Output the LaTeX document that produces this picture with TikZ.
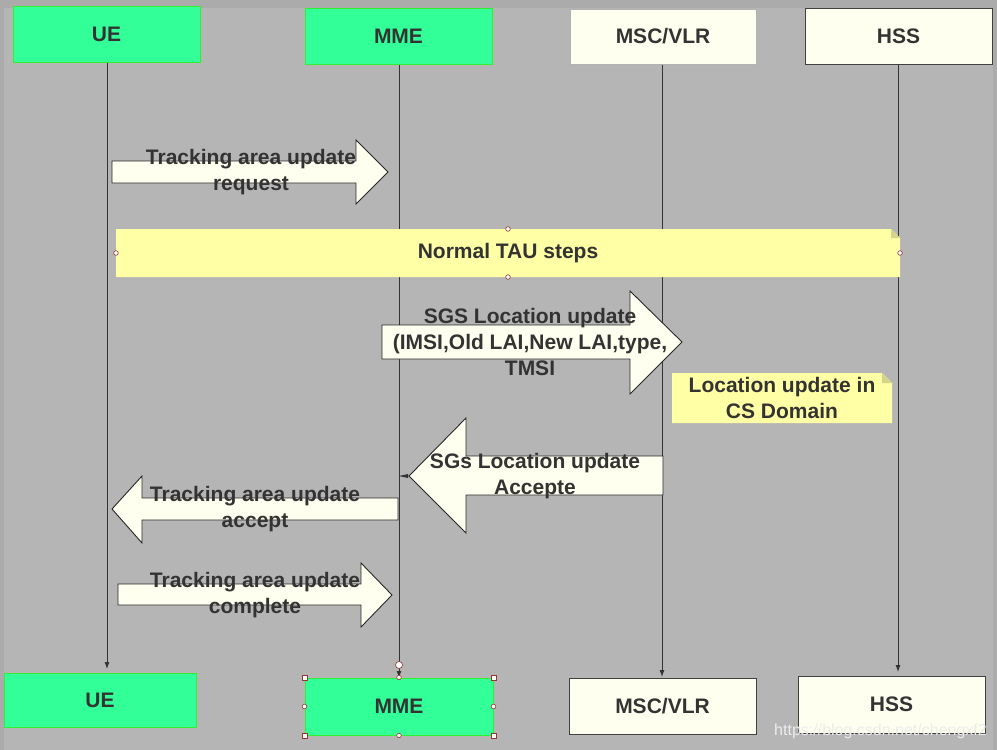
\documentclass[tikz,border=0pt]{standalone}
\usepackage{fontspec}
\setmainfont{Liberation Sans}
\usetikzlibrary{arrows.meta}
\definecolor{bgouter}{HTML}{ABABAB}
\definecolor{bginner}{HTML}{B5B5B5}
\definecolor{entgreen}{HTML}{33FF99}
\definecolor{entgreenline}{HTML}{33EE33}
\definecolor{ivory}{HTML}{FFFFF0}
\definecolor{notey}{HTML}{FFFFA5}
\definecolor{notefold}{HTML}{D4D48A}
\definecolor{txt}{HTML}{333333}
\definecolor{handle}{HTML}{993333}
\begin{document}
\begin{tikzpicture}[x=1pt,y=-1pt,
  lbl/.style={font=\bfseries\fontsize{21}{26}\selectfont, text=txt, align=center, inner sep=0pt},
  entbox/.style={lbl, draw, line width=1pt, inner sep=0pt},
  greenent/.style={entbox, fill=entgreen, draw=entgreenline},
  ivoryent/.style={entbox, fill=ivory, draw=black!75},
  lifeline/.style={draw=black!80, line width=0.9pt, -{Latex[length=7pt,width=5pt]}},
  blockarrow/.style={fill=ivory, draw=black!85, line width=0.9pt},
  note/.style={fill=notey, draw=none},
  fold/.style={fill=notefold, draw=none},
  hcirc/.style={fill=white, draw=handle, line width=0.6pt},
]
\useasboundingbox (0,0) rectangle (997,750);
\fill[bgouter] (0,0) rectangle (997,750);
\fill[bginner] (4,8) rectangle (993,750);

% entities top
\node[greenent, minimum width=187pt, minimum height=56pt] (ue1) at (106.5,34) {UE};
\node[greenent, minimum width=187pt, minimum height=56pt] (mme1) at (398.5,36) {MME};
\node[ivoryent, draw=black!30, minimum width=186pt, minimum height=55pt] (msc1) at (663,36.5) {MSC/VLR};
\node[ivoryent, minimum width=187pt, minimum height=56pt] (hss1) at (898.5,36) {HSS};
% entities bottom
\node[greenent, minimum width=192pt, minimum height=54pt] (ue2) at (100,700) {UE};
\node[greenent, draw=entgreenline, minimum width=188pt, minimum height=57pt] (mme2) at (399,706.5) {MME};
\node[ivoryent, minimum width=187pt, minimum height=56pt] (msc2) at (662.5,706) {MSC/VLR};
\node[ivoryent, minimum width=187pt, minimum height=57pt] (hss2) at (891.5,704.5) {HSS};

% lifelines
\coordinate (ueend) at (107,669);
\coordinate (mmeend) at (399,678);
\coordinate (mscend) at (662,677);
\coordinate (hssend) at (898,672);
\draw[lifeline] (ue1.south -| ueend) -- (ueend);
\draw[lifeline] (mme1.south -| mmeend) -- (mmeend);
\draw[lifeline] (msc1.south -| mscend) -- (mscend);
\draw[lifeline] (hss1.south -| hssend) -- (hssend);

% 1. Tracking area update request
\draw[blockarrow] (112,161) -- (356,161) -- (356,140) -- (388,172) -- (356,204) -- (356,183) -- (112,183) -- cycle;
\node[lbl] (m1) at (251,172) {Tracking area update\\request};

% Normal TAU steps note
\fill[note] (116,229) -- (891,229) -- (900,238) -- (900,277) -- (116,277) -- cycle;
\fill[fold] (891,229) -- (900,238) -- (891,238) -- cycle;
\node[lbl] (tau) at (508,253) {Normal TAU steps};
\foreach \p in {(508,229),(508,277),(116,253),(900,253)}
  \draw[hcirc] \p circle (2.3);

% SGS Location update
\draw[blockarrow] (382,325) -- (630,325) -- (630,291) -- (682,342) -- (630,394) -- (630,359) -- (382,359) -- cycle;
\node[lbl] (m2) at (530,342) {SGS Location update\\(IMSI,Old LAI,New LAI,type,\\TMSI};

% Location update in CS Domain note
\fill[note] (672,373) -- (882,373) -- (892,383) -- (892,423) -- (672,423) -- cycle;
\fill[fold] (882,373) -- (892,383) -- (882,383) -- cycle;
\node[lbl] (cs) at (782,398) {Location update in\\CS Domain};

% SGs Location update Accepte
\draw[blockarrow] (663,456) -- (466,456) -- (466,418) -- (409,476) -- (466,533) -- (466,495) -- (663,495) -- cycle;
\node[lbl] (m3) at (535,476) {SGs Location update\\Accepte};
\fill[black!80] (399,476) -- (408,474) -- (408,478) -- cycle;

% Tracking area update accept
\draw[blockarrow] (398,498) -- (142,498) -- (142,476) -- (112,509) -- (142,543) -- (142,520) -- (398,520) -- cycle;
\node[lbl] (m4) at (255,509) {Tracking area update\\accept};

% Tracking area update complete
\draw[blockarrow] (118,584) -- (361,584) -- (361,563) -- (392,595) -- (361,627) -- (361,605) -- (118,605) -- cycle;
\node[lbl] (m5) at (255,595) {Tracking area update\\complete};

% selection handles on bottom MME
\draw[hcirc] (399,665) circle (3.5);
\foreach \p in {(mme2.north west),(mme2.north east),(mme2.south west),(mme2.south east)}
  \draw[fill=white, draw=handle, line width=0.7pt] \p ++(-2.5,-2.5) rectangle ++(5,5);
\foreach \p in {(mme2.north),(mme2.south),(mme2.west),(mme2.east)}
  \draw[hcirc] \p circle (2.3);

% watermark
\node[font=\fontsize{16}{18}\selectfont, text=white!85!gray, anchor=east, inner sep=0pt] (wm) at (987,731) {https://blog.csdn.net/chengxf2};
\end{tikzpicture}
\end{document}
